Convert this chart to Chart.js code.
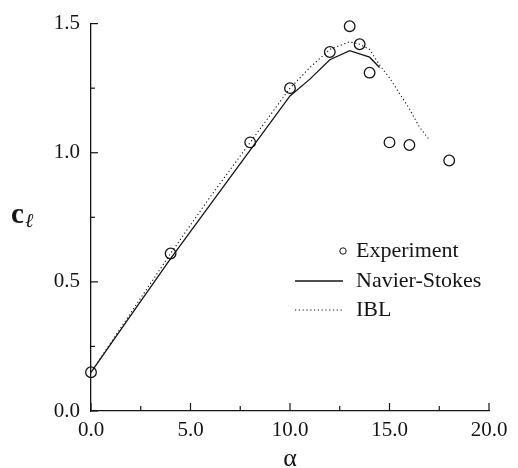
<!DOCTYPE html>
<html>
<head>
<meta charset="utf-8">
<script src="https://cdn.jsdelivr.net/npm/chart.js@4.4.1/dist/chart.umd.min.js"></script>
<style>
html,body{margin:0;padding:0;background:#fff;}
#wrap{width:518px;height:468px;}
</style>
</head>
<body>
<div id="wrap"><canvas id="clChart" width="518" height="468"></canvas></div>
<script>

// experiment
let expAlpha = [0, 4, 8, 10, 12, 13, 13.5, 14, 15, 16, 18];
let expCl = [0.15, 0.61, 1.04, 1.25, 1.39, 1.49, 1.42, 1.31, 1.04, 1.03, 0.97];

// Navier-Stokes
let nsAlpha = [0, 2, 4, 6, 8, 10, 11, 12, 13, 14, 14.5];
let nsCl = [0.15, 0.37, 0.59, 0.80, 1.01, 1.22, 1.285, 1.36, 1.395, 1.37, 1.33];

// IBL
let iblAlpha = [0, 2, 4, 6, 8, 10, 11, 12, 13, 13.5, 14, 14.5, 15, 15.5, 16, 16.5, 17];
let iblCl = [0.15, 0.38, 0.61, 0.83, 1.04, 1.25, 1.33, 1.40, 1.43, 1.42, 1.40, 1.34, 1.29, 1.23, 1.17, 1.10, 1.05];

// ticks
let xMajor = [0, 5, 10, 15, 20];
let xMinor = [2.5, 7.5, 12.5, 17.5];
let yMajor = [0, 0.5, 1.0, 1.5];
let yMinor = [0.25, 0.75, 1.25];

let legendNames = ["Experiment", "Navier-Stokes", "IBL"];

const ink = "#151515";
const serif = "'Liberation Serif', 'Times New Roman', serif";

function toPoints(xs, ys){
return xs.map((x, i) => ({x: x, y: ys[i]}));
}

const extras = {
id: "extras",
afterDraw(chart){
let ctx = chart.ctx;
let xs = chart.scales.x;
let ys = chart.scales.y;
let a = chart.chartArea;

ctx.save();
ctx.strokeStyle = ink;
ctx.lineWidth = 1.2;

// inward ticks
xMajor.concat(xMinor).forEach(v => {
let px = xs.getPixelForValue(v);
let len = xMajor.includes(v) ? 8 : 5;
ctx.beginPath();
ctx.moveTo(px, a.bottom);
ctx.lineTo(px, a.bottom - len);
ctx.stroke();
});
yMajor.concat(yMinor).forEach(v => {
let py = ys.getPixelForValue(v);
let len = yMajor.includes(v) ? 7 : 4;
ctx.beginPath();
ctx.moveTo(a.left, py);
ctx.lineTo(a.left + len, py);
ctx.stroke();
});

// axis titles
ctx.fillStyle = ink;
ctx.textAlign = "left";
ctx.textBaseline = "alphabetic";
ctx.font = "bold 29px " + serif;
ctx.fillText("c", 11, 223);
ctx.font = "italic 20px " + serif;
ctx.fillText("\u2113", 25, 227);

ctx.textAlign = "center";
ctx.font = "26px " + serif;
ctx.fillText("\u03b1", (a.left + a.right) / 2, 466);

// legend
let lx = 295, tx = 356, rows = [251, 281, 310];
ctx.textAlign = "left";
ctx.textBaseline = "middle";
ctx.font = "22px " + serif;

ctx.beginPath();
ctx.arc(343, rows[0], 3.2, 0, Math.PI * 2);
ctx.lineWidth = 1;
ctx.stroke();
ctx.fillText(legendNames[0], tx, rows[0]);

ctx.lineWidth = 1.3;
ctx.beginPath();
ctx.moveTo(lx, rows[1]);
ctx.lineTo(343, rows[1]);
ctx.stroke();
ctx.fillText(legendNames[1], tx, rows[1]);

ctx.setLineDash([1.2, 2.6]);
ctx.lineWidth = 1.1;
ctx.beginPath();
ctx.moveTo(lx, rows[2]);
ctx.lineTo(342, rows[2]);
ctx.stroke();
ctx.setLineDash([]);
ctx.fillText(legendNames[2], tx, rows[2]);

ctx.restore();
}
};

const ctx = document.getElementById("clChart").getContext("2d");

new Chart(ctx, {
type: "scatter",
data: {
datasets: [
{
label: legendNames[0],
data: toPoints(expAlpha, expCl),
showLine: false,
clip: false,
pointStyle: "circle",
pointRadius: 5.3,
pointBorderWidth: 1.3,
pointBorderColor: ink,
pointBackgroundColor: "rgba(0,0,0,0)"
},
{
label: legendNames[1],
data: toPoints(nsAlpha, nsCl),
showLine: true,
clip: false,
borderColor: ink,
borderWidth: 1.3,
pointRadius: 0,
tension: 0
},
{
label: legendNames[2],
data: toPoints(iblAlpha, iblCl),
showLine: true,
clip: false,
borderColor: ink,
borderWidth: 1.1,
borderDash: [1.2, 2.6],
pointRadius: 0,
tension: 0
}
]
},
options: {
responsive: false,
animation: false,
layout: {padding: {left: 0, right: 29, top: 19, bottom: 0}},
plugins: {
legend: {display: false},
tooltip: {enabled: false}
},
scales: {
x: {
type: "linear",
min: 0,
max: 20,
afterBuildTicks: s => { s.ticks = xMajor.map(v => ({value: v})); },
afterFit: s => { s.height = 57; },
ticks: {
color: ink,
padding: 7,
maxRotation: 0,
font: {family: serif, size: 21},
callback: v => Number(v).toFixed(1)
},
grid: {display: false, drawTicks: false},
border: {display: true, color: ink, width: 1.3}
},
y: {
type: "linear",
min: 0,
max: 1.5,
afterBuildTicks: s => { s.ticks = yMajor.map(v => ({value: v})); },
afterFit: s => { s.width = 91; },
ticks: {
color: ink,
padding: 11,
font: {family: serif, size: 21},
callback: v => Number(v).toFixed(1)
},
grid: {display: false, drawTicks: false},
border: {display: true, color: ink, width: 1.3}
}
}
},
plugins: [extras]
});

</script>
</body>
</html>
